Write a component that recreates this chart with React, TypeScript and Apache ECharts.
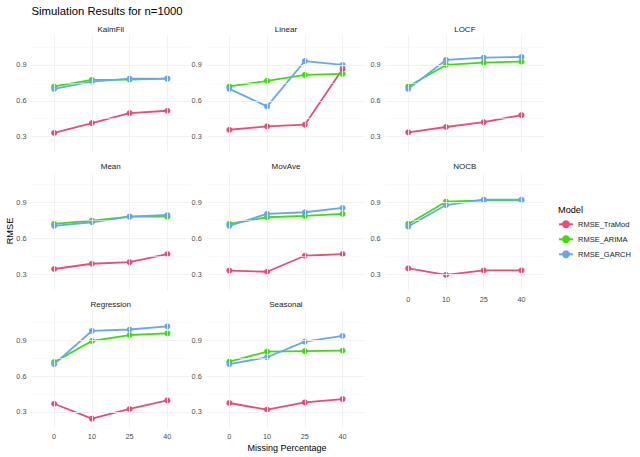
import React, { useEffect, useRef } from "react";
import * as echarts from "echarts";

const categories = ["0", "10", "25", "40"];
const methods = ["KalmFil", "Linear", "LOCF", "Mean", "MovAve", "NOCB", "Regression", "Seasonal"];
const models = ["RMSE_TraMod", "RMSE_ARIMA", "RMSE_GARCH"];
const yTicks = [0.3, 0.6, 0.9];
const yMinorTicks = [0.45, 0.75, 1.05];

// one row per method, in the order of `methods`
const rmseTraMod = [
  [0.331, 0.414, 0.497, 0.517],
  [0.358, 0.386, 0.4, 0.867],
  [0.336, 0.381, 0.422, 0.48],
  [0.345, 0.389, 0.403, 0.47],
  [0.331, 0.322, 0.456, 0.47],
  [0.35, 0.295, 0.333, 0.333],
  [0.369, 0.244, 0.325, 0.397],
  [0.375, 0.319, 0.38, 0.408],
];
const rmseArima = [
  [0.72, 0.775, 0.778, 0.785],
  [0.72, 0.767, 0.817, 0.825],
  [0.72, 0.9, 0.92, 0.928],
  [0.722, 0.75, 0.783, 0.783],
  [0.722, 0.778, 0.79, 0.806],
  [0.722, 0.908, 0.92, 0.92],
  [0.717, 0.894, 0.944, 0.958],
  [0.722, 0.805, 0.81, 0.814],
];
const rmseGarch = [
  [0.7, 0.76, 0.786, 0.786],
  [0.7, 0.553, 0.933, 0.9],
  [0.7, 0.942, 0.961, 0.967],
  [0.706, 0.736, 0.783, 0.797],
  [0.706, 0.806, 0.82, 0.856],
  [0.7, 0.88, 0.925, 0.925],
  [0.7, 0.978, 0.99, 1.017],
  [0.7, 0.758, 0.889, 0.936],
];

const modelData = [rmseTraMod, rmseArima, rmseGarch];
const modelColors = ["#E64E78", "#3FDC12", "#6AA6EC"];

const FONT = "'Liberation Sans', Arial, sans-serif";
const colLeft = [31.5, 206.7, 385.6];
const rowTop = [35.1, 172.8, 310.4];
const panelW = 158.5;
const panelH = 117.7;
const Y_MIN = 0.165;
const Y_MAX = 1.15;

function buildOption() {
  const grid: any[] = [];
  const xAxis: any[] = [];
  const yAxis: any[] = [];
  const series: any[] = [];
  const graphics: any[] = [];

  const textEl = (text: string, x: number, y: number, size: number, align = "left", fill = "#000000", rotation = 0) => ({
    type: "text",
    x,
    y,
    rotation,
    silent: true,
    style: { text, fill, font: `${size}px ${FONT}`, textAlign: align, textVerticalAlign: "middle" },
  });

  methods.forEach((m, i) => {
    const col = i % 3;
    const row = Math.floor(i / 3);
    const showX = i >= 5;
    grid.push({ left: colLeft[col], top: rowTop[row], width: panelW, height: panelH, containLabel: false });
    xAxis.push({
      gridIndex: i,
      type: "value",
      min: -0.6,
      max: 3.6,
      axisLine: { show: false },
      axisTick: { show: false },
      splitLine: { show: false },
      axisLabel: {
        show: showX,
        customValues: [0, 1, 2, 3],
        formatter: (v: number) => categories[Math.round(v)] ?? "",
        color: "#4D4D4D",
        fontSize: 7.3,
        fontFamily: FONT,
        margin: 5,
      },
    });
    yAxis.push({
      gridIndex: i,
      type: "value",
      min: Y_MIN,
      max: Y_MAX,
      axisLine: { show: false },
      axisTick: { show: false },
      splitLine: { show: false },
      axisLabel: {
        customValues: yTicks,
        formatter: (v: number) => v.toFixed(1),
        color: "#4D4D4D",
        fontSize: 7.3,
        fontFamily: FONT,
        margin: 5,
      },
    });
    // gridlines
    series.push({
      type: "line",
      xAxisIndex: i,
      yAxisIndex: i,
      data: rmseTraMod[i].map((v, k) => [k, v]),
      showSymbol: false,
      lineStyle: { opacity: 0 },
      silent: true,
      z: 0,
      markLine: {
        silent: true,
        symbol: ["none", "none"],
        label: { show: false },
        emphasis: { disabled: true },
        data: [
          ...categories.map((_, k) => ({ xAxis: k, lineStyle: { color: "#EFEFEF", width: 0.9, type: "solid" } })),
          ...yTicks.map((v) => ({ yAxis: v, lineStyle: { color: "#EFEFEF", width: 0.9, type: "solid" } })),
          ...yMinorTicks.map((v) => ({ yAxis: v, lineStyle: { color: "#F6F6F6", width: 0.6, type: "solid" } })),
        ],
      },
    });
    models.forEach((name, j) => {
      series.push({
        type: "line",
        name,
        xAxisIndex: i,
        yAxisIndex: i,
        data: modelData[j][i].map((v, k) => [k, v]),
        symbol: "circle",
        symbolSize: 6,
        showSymbol: true,
        color: modelColors[j],
        lineStyle: { width: 1.8, color: modelColors[j] },
        itemStyle: { color: modelColors[j] },
        z: 2 + j,
      });
    });
    graphics.push(textEl(m, colLeft[col] + panelW / 2, rowTop[row] - 6, 8, "center", "#1A1A1A"));
  });

  graphics.push(textEl("Simulation Results for n=1000", 31.5, 10.5, 11.3));
  graphics.push(textEl("Missing Percentage", 287, 447.5, 9, "center"));
  graphics.push(textEl("RMSE", 10, 231, 9.2, "center", "#000000", Math.PI / 2));
  graphics.push(textEl("Model", 558, 209.5, 9.2));

  return {
    animation: false,
    backgroundColor: "#FFFFFF",
    grid,
    xAxis,
    yAxis,
    series,
    legend: {
      orient: "vertical",
      left: 558,
      top: 219.3,
      padding: 0,
      itemWidth: 14,
      itemHeight: 10,
      itemGap: 5,
      data: models,
      selectedMode: false,
      textStyle: { fontSize: 7.5, lineHeight: 10, color: "#1A1A1A", fontFamily: FONT },
    },
    graphic: graphics,
  };
}

export default function App() {
  const ref = useRef<HTMLDivElement>(null);
  useEffect(() => {
    if (!ref.current) return;
    const chart = echarts.init(ref.current, undefined, { renderer: "svg" });
    chart.setOption(buildOption() as any);
    return () => chart.dispose();
  }, []);
  return (
    <div
      ref={ref}
      style={{ position: "fixed", left: 0, top: 0, width: 640, height: 457, background: "#fff" }}
    />
  );
}
